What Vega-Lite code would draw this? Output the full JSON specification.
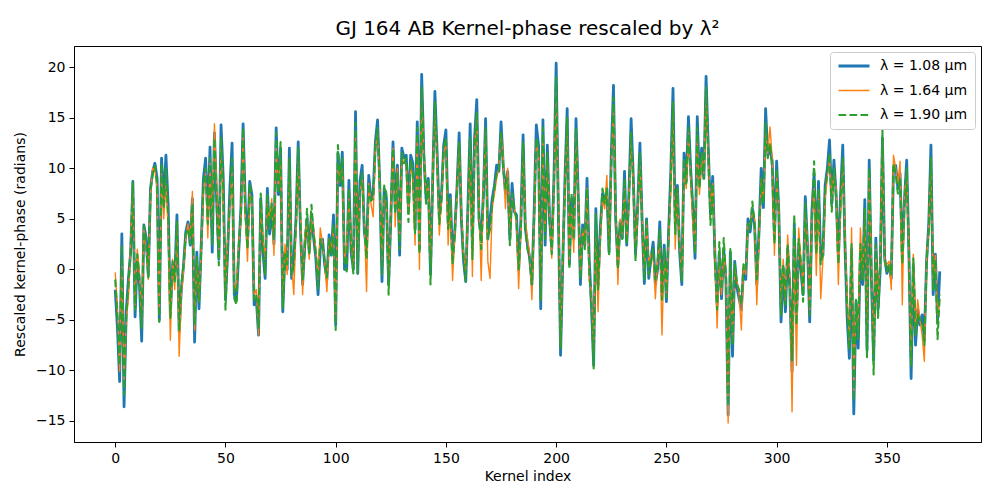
{
  "$schema": "https://vega.github.io/schema/vega-lite/v6.json",
  "width": 907,
  "height": 396,
  "autosize": {"type": "none"},
  "padding": {"left": 74, "top": 46, "right": 19, "bottom": 58},
  "background": "white",
  "config": {
    "font": "DejaVu Sans",
    "view": {"stroke": "black", "strokeWidth": 1},
    "axis": {
      "grid": false,
      "domainColor": "black",
      "tickColor": "black",
      "tickSize": 5,
      "labelFont": "DejaVu Sans",
      "labelFontSize": 14,
      "labelColor": "black",
      "labelPadding": 4,
      "titleFont": "DejaVu Sans",
      "titleFontSize": 14,
      "titleFontWeight": "normal",
      "titleColor": "black"
    },
    "legend": {
      "labelFont": "DejaVu Sans",
      "labelFontSize": 14,
      "labelColor": "black"
    }
  },
  "title": {
    "text": "GJ 164 AB Kernel-phase rescaled by λ²",
    "font": "DejaVu Sans",
    "fontSize": 20,
    "fontWeight": "normal",
    "color": "black",
    "anchor": "middle",
    "baseline": "bottom",
    "offset": 5,
    "dy": 18
  },
  "data": {
    "values": [
      {"k":0,"b":-2.0,"o":-0.3,"g":-1.0},{"k":1,"b":-5.8,"o":-3.5,"g":-4.8},{"k":2,"b":-11.1,"o":-10.1,"g":-9.5},{"k":3,"b":3.5,"o":1.0,"g":2.4},{"k":4,"b":-13.6,"o":-11.0,"g":-12.4},
      {"k":5,"b":-4.2,"o":-5.0,"g":-4.5},{"k":6,"b":-0.9,"o":-2.9,"g":-1.5},{"k":7,"b":1.7,"o":2.5,"g":2.0},{"k":8,"b":8.7,"o":8.5,"g":8.6},{"k":9,"b":-4.7,"o":-3.5,"g":-4.0},
      {"k":10,"b":1.1,"o":2.0,"g":1.5},{"k":11,"b":-1.5,"o":-0.5,"g":-1.0},{"k":12,"b":-7.1,"o":-5.0,"g":-5.8},{"k":13,"b":4.4,"o":4.0,"g":4.3},{"k":14,"b":3.1,"o":2.0,"g":2.8},
      {"k":15,"b":-0.6,"o":-1.0,"g":-0.8},{"k":16,"b":8.0,"o":7.5,"g":7.8},{"k":17,"b":9.7,"o":10.0,"g":9.5},{"k":18,"b":10.5,"o":9.8,"g":10.2},{"k":19,"b":9.0,"o":8.0,"g":8.5},
      {"k":20,"b":-5.0,"o":-4.0,"g":-5.2},{"k":21,"b":11.0,"o":9.5,"g":10.5},{"k":22,"b":6.7,"o":5.0,"g":6.0},{"k":23,"b":11.3,"o":8.5,"g":10.0},{"k":24,"b":6.4,"o":4.0,"g":5.5},
      {"k":25,"b":-4.5,"o":-7.0,"g":-4.8},{"k":26,"b":0.4,"o":1.0,"g":0.8},{"k":27,"b":-0.9,"o":-2.0,"g":-1.2},{"k":28,"b":5.4,"o":4.0,"g":4.8},{"k":29,"b":-6.2,"o":-8.6,"g":-6.0},
      {"k":30,"b":-1.9,"o":-2.5,"g":-1.5},{"k":31,"b":0.4,"o":0.0,"g":0.5},{"k":32,"b":3.7,"o":3.0,"g":3.5},{"k":33,"b":4.7,"o":4.5,"g":4.0},{"k":34,"b":2.4,"o":3.0,"g":2.5},
      {"k":35,"b":7.0,"o":7.7,"g":6.5},{"k":36,"b":-7.2,"o":-6.0,"g":-5.5},{"k":37,"b":1.7,"o":1.0,"g":1.2},{"k":38,"b":-3.9,"o":-3.0,"g":-3.2},{"k":39,"b":2.4,"o":2.0,"g":1.8},
      {"k":40,"b":9.0,"o":8.0,"g":8.5},{"k":41,"b":11.0,"o":9.5,"g":10.0},{"k":42,"b":5.0,"o":3.1,"g":4.5},{"k":43,"b":12.1,"o":10.5,"g":11.0},{"k":44,"b":1.7,"o":4.0,"g":2.5},
      {"k":45,"b":13.5,"o":14.4,"g":13.0},{"k":46,"b":7.0,"o":8.0,"g":6.5},{"k":47,"b":1.0,"o":2.0,"g":0.4},{"k":48,"b":14.3,"o":12.0,"g":13.0},{"k":49,"b":9.0,"o":7.0,"g":8.0},
      {"k":50,"b":-3.0,"o":-2.5,"g":-4.0},{"k":51,"b":1.7,"o":3.0,"g":2.0},{"k":52,"b":8.0,"o":6.0,"g":7.0},{"k":53,"b":12.5,"o":10.0,"g":11.0},{"k":54,"b":-2.5,"o":-2.0,"g":-2.9},
      {"k":55,"b":-3.0,"o":-1.5,"g":-3.5},{"k":56,"b":1.7,"o":2.5,"g":2.0},{"k":57,"b":6.0,"o":5.0,"g":5.5},{"k":58,"b":14.4,"o":13.0,"g":14.0},{"k":59,"b":6.4,"o":5.5,"g":6.0},
      {"k":60,"b":2.5,"o":0.8,"g":2.0},{"k":61,"b":8.7,"o":7.5,"g":8.5},{"k":62,"b":7.4,"o":6.5,"g":7.0},{"k":63,"b":-3.5,"o":-2.5,"g":-3.0},{"k":64,"b":-2.9,"o":-2.0,"g":-2.5},
      {"k":65,"b":-6.5,"o":-6.5,"g":-5.8},{"k":66,"b":7.0,"o":6.0,"g":7.5},{"k":67,"b":1.7,"o":3.0,"g":2.0},{"k":68,"b":-0.9,"o":1.0,"g":-0.5},{"k":69,"b":8.0,"o":6.5,"g":7.5},
      {"k":70,"b":3.5,"o":5.0,"g":4.0},{"k":71,"b":6.0,"o":7.0,"g":6.5},{"k":72,"b":2.5,"o":1.4,"g":3.0},{"k":73,"b":14.0,"o":12.0,"g":13.5},{"k":74,"b":7.4,"o":8.0,"g":7.5},
      {"k":75,"b":12.0,"o":11.0,"g":12.6},{"k":76,"b":-4.2,"o":-3.5,"g":-3.8},{"k":77,"b":1.7,"o":2.5,"g":1.5},{"k":78,"b":0.0,"o":-0.5,"g":0.5},{"k":79,"b":12.0,"o":10.0,"g":11.0},
      {"k":80,"b":-0.9,"o":0.5,"g":-0.5},{"k":81,"b":1.0,"o":-2.5,"g":0.5},{"k":82,"b":5.0,"o":4.0,"g":4.5},{"k":83,"b":12.6,"o":11.0,"g":12.0},{"k":84,"b":4.1,"o":5.0,"g":4.5},
      {"k":85,"b":-1.5,"o":-2.5,"g":-1.0},{"k":86,"b":2.5,"o":3.5,"g":2.0},{"k":87,"b":5.0,"o":4.5,"g":6.0},{"k":88,"b":1.7,"o":1.0,"g":1.5},{"k":89,"b":5.5,"o":5.0,"g":6.4},
      {"k":90,"b":3.1,"o":4.0,"g":3.5},{"k":91,"b":1.1,"o":2.0,"g":1.5},{"k":92,"b":-2.5,"o":-1.0,"g":-2.0},{"k":93,"b":2.0,"o":4.1,"g":3.0},{"k":94,"b":3.0,"o":2.5,"g":2.5},
      {"k":95,"b":0.5,"o":1.0,"g":0.8},{"k":96,"b":-1.0,"o":-2.2,"g":-0.8},{"k":97,"b":3.4,"o":3.0,"g":3.0},{"k":98,"b":1.4,"o":2.0,"g":1.5},{"k":99,"b":5.4,"o":4.0,"g":4.5},
      {"k":100,"b":-5.5,"o":-5.0,"g":-6.0},{"k":101,"b":11.5,"o":10.0,"g":12.3},{"k":102,"b":8.3,"o":9.0,"g":8.5},{"k":103,"b":11.6,"o":10.0,"g":11.0},{"k":104,"b":0.0,"o":1.0,"g":0.4},
      {"k":105,"b":0.0,"o":2.5,"g":-0.2},{"k":106,"b":8.8,"o":7.0,"g":8.0},{"k":107,"b":1.7,"o":3.0,"g":2.0},{"k":108,"b":0.0,"o":-0.2,"g":-0.4},{"k":109,"b":15.6,"o":13.0,"g":14.5},
      {"k":110,"b":-0.4,"o":1.5,"g":-0.4},{"k":111,"b":8.7,"o":7.5,"g":8.0},{"k":112,"b":10.3,"o":9.0,"g":9.5},{"k":113,"b":3.7,"o":4.5,"g":4.0},{"k":114,"b":2.0,"o":-2.2,"g":1.0},
      {"k":115,"b":9.3,"o":8.5,"g":8.5},{"k":116,"b":7.0,"o":6.5,"g":6.8},{"k":117,"b":7.5,"o":5.2,"g":7.0},{"k":118,"b":12.6,"o":12.0,"g":12.0},{"k":119,"b":14.8,"o":13.5,"g":14.0},
      {"k":120,"b":8.3,"o":8.0,"g":8.5},{"k":121,"b":-1.2,"o":0.5,"g":-0.5},{"k":122,"b":8.0,"o":7.0,"g":8.3},{"k":123,"b":7.0,"o":6.5,"g":7.5},{"k":124,"b":-1.5,"o":-1.0,"g":-2.5},
      {"k":125,"b":5.0,"o":5.5,"g":5.5},{"k":126,"b":12.6,"o":12.0,"g":12.0},{"k":127,"b":6.0,"o":4.2,"g":5.5},{"k":128,"b":10.3,"o":10.0,"g":9.5},{"k":129,"b":1.4,"o":3.0,"g":2.0},
      {"k":130,"b":12.0,"o":11.0,"g":11.5},{"k":131,"b":11.0,"o":10.5,"g":10.5},{"k":132,"b":11.3,"o":10.5,"g":11.0},{"k":133,"b":6.0,"o":5.5,"g":4.7},{"k":134,"b":11.3,"o":10.0,"g":10.8},
      {"k":135,"b":10.5,"o":9.5,"g":10.0},{"k":136,"b":4.0,"o":2.4,"g":3.5},{"k":137,"b":14.6,"o":13.0,"g":14.0},{"k":138,"b":2.0,"o":0.0,"g":1.5},{"k":139,"b":19.3,"o":17.5,"g":18.0},
      {"k":140,"b":11.3,"o":11.0,"g":11.5},{"k":141,"b":7.0,"o":7.5,"g":6.5},{"k":142,"b":9.0,"o":8.5,"g":9.0},{"k":143,"b":-0.5,"o":0.5,"g":-1.5},{"k":144,"b":9.0,"o":9.5,"g":8.5},
      {"k":145,"b":17.6,"o":15.5,"g":16.5},{"k":146,"b":11.6,"o":11.0,"g":11.0},{"k":147,"b":5.0,"o":3.4,"g":4.5},{"k":148,"b":7.4,"o":7.0,"g":7.0},{"k":149,"b":12.3,"o":11.5,"g":12.0},
      {"k":150,"b":13.8,"o":12.5,"g":13.0},{"k":151,"b":4.5,"o":2.4,"g":4.0},{"k":152,"b":7.4,"o":7.0,"g":7.0},{"k":153,"b":1.0,"o":-1.1,"g":0.5},{"k":154,"b":3.7,"o":3.5,"g":3.5},
      {"k":155,"b":8.0,"o":7.5,"g":7.8},{"k":156,"b":13.5,"o":12.5,"g":12.5},{"k":157,"b":5.0,"o":5.5,"g":5.2},{"k":158,"b":0.8,"o":1.5,"g":1.0},{"k":159,"b":-1.2,"o":0.0,"g":-1.2},
      {"k":160,"b":6.4,"o":5.5,"g":6.0},{"k":161,"b":14.4,"o":12.5,"g":13.0},{"k":162,"b":2.0,"o":-0.7,"g":1.0},{"k":163,"b":13.0,"o":12.0,"g":12.5},{"k":164,"b":16.8,"o":15.0,"g":15.5},
      {"k":165,"b":5.0,"o":6.5,"g":5.5},{"k":166,"b":3.0,"o":-1.1,"g":2.0},{"k":167,"b":7.4,"o":8.0,"g":7.0},{"k":168,"b":14.9,"o":13.5,"g":14.0},{"k":169,"b":3.0,"o":0.8,"g":3.0},
      {"k":170,"b":5.0,"o":-0.9,"g":4.0},{"k":171,"b":7.0,"o":6.0,"g":6.5},{"k":172,"b":8.3,"o":7.5,"g":8.0},{"k":173,"b":10.3,"o":9.0,"g":9.5},{"k":174,"b":9.7,"o":10.0,"g":9.5},
      {"k":175,"b":14.6,"o":13.5,"g":13.5},{"k":176,"b":10.3,"o":11.0,"g":10.0},{"k":177,"b":7.5,"o":6.0,"g":8.0},{"k":178,"b":9.7,"o":10.0,"g":9.0},{"k":179,"b":3.0,"o":3.5,"g":2.4},
      {"k":180,"b":8.5,"o":7.0,"g":7.5},{"k":181,"b":5.7,"o":6.0,"g":6.0},{"k":182,"b":5.4,"o":4.5,"g":5.0},{"k":183,"b":0.0,"o":-1.9,"g":0.0},{"k":184,"b":5.0,"o":4.5,"g":4.0},
      {"k":185,"b":13.3,"o":12.0,"g":12.5},{"k":186,"b":4.1,"o":5.0,"g":4.0},{"k":187,"b":2.4,"o":3.0,"g":2.0},{"k":188,"b":1.1,"o":1.5,"g":1.0},{"k":189,"b":-1.5,"o":-3.0,"g":-1.5},
      {"k":190,"b":5.7,"o":5.0,"g":5.0},{"k":191,"b":14.3,"o":12.5,"g":13.0},{"k":192,"b":12.3,"o":11.5,"g":12.0},{"k":193,"b":-3.9,"o":-3.0,"g":-3.0},{"k":194,"b":14.8,"o":13.0,"g":14.0},
      {"k":195,"b":2.4,"o":4.0,"g":3.0},{"k":196,"b":12.3,"o":11.0,"g":11.5},{"k":197,"b":5.0,"o":5.5,"g":5.0},{"k":198,"b":2.0,"o":1.1,"g":1.5},{"k":199,"b":9.0,"o":8.0,"g":8.5},
      {"k":200,"b":20.4,"o":18.0,"g":19.0},{"k":201,"b":5.7,"o":7.0,"g":6.0},{"k":202,"b":-8.5,"o":-7.5,"g":-7.8},{"k":203,"b":0.8,"o":1.5,"g":1.0},{"k":204,"b":9.0,"o":8.0,"g":8.5},
      {"k":205,"b":15.9,"o":14.5,"g":15.0},{"k":206,"b":0.5,"o":1.0,"g":0.0},{"k":207,"b":7.0,"o":6.0,"g":7.5},{"k":208,"b":3.0,"o":1.7,"g":3.0},{"k":209,"b":14.9,"o":13.5,"g":14.0},
      {"k":210,"b":7.4,"o":7.0,"g":7.0},{"k":211,"b":-1.5,"o":-0.5,"g":-1.0},{"k":212,"b":4.4,"o":4.0,"g":4.0},{"k":213,"b":2.4,"o":2.5,"g":2.0},{"k":214,"b":9.0,"o":8.0,"g":8.0},
      {"k":215,"b":1.0,"o":-1.2,"g":0.0},{"k":216,"b":-3.5,"o":-2.0,"g":-3.5},{"k":217,"b":-9.5,"o":-8.0,"g":-9.8},{"k":218,"b":6.0,"o":4.0,"g":5.5},{"k":219,"b":-1.5,"o":-4.2,"g":-2.0},
      {"k":220,"b":4.0,"o":3.0,"g":3.5},{"k":221,"b":7.5,"o":7.0,"g":8.0},{"k":222,"b":6.7,"o":6.0,"g":6.5},{"k":223,"b":8.0,"o":9.3,"g":8.0},{"k":224,"b":1.7,"o":2.0,"g":1.5},
      {"k":225,"b":11.3,"o":10.0,"g":10.5},{"k":226,"b":18.2,"o":16.0,"g":17.0},{"k":227,"b":5.0,"o":6.0,"g":5.5},{"k":228,"b":0.5,"o":-1.5,"g":0.0},{"k":229,"b":4.7,"o":5.0,"g":4.5},
      {"k":230,"b":3.1,"o":3.5,"g":3.0},{"k":231,"b":9.7,"o":8.0,"g":9.0},{"k":232,"b":2.4,"o":3.0,"g":2.5},{"k":233,"b":7.5,"o":7.0,"g":7.0},{"k":234,"b":14.9,"o":12.5,"g":13.5},
      {"k":235,"b":9.0,"o":8.5,"g":8.5},{"k":236,"b":1.5,"o":2.0,"g":0.8},{"k":237,"b":6.4,"o":6.0,"g":6.0},{"k":238,"b":12.5,"o":11.0,"g":11.5},{"k":239,"b":4.7,"o":5.0,"g":4.5},
      {"k":240,"b":-1.4,"o":-0.5,"g":-1.0},{"k":241,"b":5.0,"o":4.5,"g":4.8},{"k":242,"b":-0.9,"o":0.5,"g":-0.5},{"k":243,"b":1.1,"o":1.5,"g":1.0},{"k":244,"b":2.7,"o":1.5,"g":2.0},
      {"k":245,"b":-1.5,"o":-2.9,"g":-1.0},{"k":246,"b":0.0,"o":1.0,"g":0.5},{"k":247,"b":4.7,"o":3.0,"g":4.0},{"k":248,"b":-2.5,"o":-6.5,"g":-3.0},{"k":249,"b":2.4,"o":1.5,"g":2.0},
      {"k":250,"b":-3.2,"o":-2.5,"g":-2.8},{"k":251,"b":3.7,"o":3.0,"g":3.5},{"k":252,"b":9.7,"o":8.0,"g":9.0},{"k":253,"b":17.9,"o":15.5,"g":16.5},{"k":254,"b":4.5,"o":2.0,"g":3.5},
      {"k":255,"b":8.3,"o":7.5,"g":8.0},{"k":256,"b":1.7,"o":2.5,"g":2.0},{"k":257,"b":-1.5,"o":-1.0,"g":-1.2},{"k":258,"b":11.5,"o":10.0,"g":11.0},{"k":259,"b":8.7,"o":8.0,"g":8.5},
      {"k":260,"b":15.1,"o":13.5,"g":14.0},{"k":261,"b":10.0,"o":9.0,"g":9.5},{"k":262,"b":6.0,"o":4.4,"g":6.0},{"k":263,"b":1.1,"o":2.5,"g":1.5},{"k":264,"b":15.1,"o":13.0,"g":14.0},
      {"k":265,"b":8.5,"o":7.4,"g":8.0},{"k":266,"b":12.0,"o":11.0,"g":11.5},{"k":267,"b":9.0,"o":9.5,"g":9.0},{"k":268,"b":19.1,"o":17.5,"g":18.0},{"k":269,"b":12.0,"o":11.0,"g":11.5},
      {"k":270,"b":5.5,"o":6.0,"g":4.4},{"k":271,"b":9.2,"o":8.5,"g":8.5},{"k":272,"b":1.5,"o":2.0,"g":1.0},{"k":273,"b":-3.5,"o":-5.8,"g":-4.0},{"k":274,"b":1.5,"o":1.0,"g":2.7},
      {"k":275,"b":-2.9,"o":-2.5,"g":-2.0},{"k":276,"b":2.0,"o":1.5,"g":3.1},{"k":277,"b":-1.0,"o":-0.5,"g":-0.8},{"k":278,"b":-14.4,"o":-15.2,"g":-13.5},{"k":279,"b":1.7,"o":1.0,"g":2.0},
      {"k":280,"b":-8.6,"o":-7.0,"g":-7.5},{"k":281,"b":0.8,"o":0.0,"g":0.5},{"k":282,"b":-1.8,"o":-1.0,"g":-1.5},{"k":283,"b":-2.9,"o":-2.5,"g":-2.0},{"k":284,"b":-4.0,"o":-6.0,"g":-3.5},
      {"k":285,"b":0.0,"o":0.5,"g":0.5},{"k":286,"b":-1.0,"o":-0.5,"g":0.0},{"k":287,"b":5.0,"o":4.5,"g":4.5},{"k":288,"b":3.7,"o":4.5,"g":4.0},{"k":289,"b":6.0,"o":5.5,"g":6.7},
      {"k":290,"b":4.4,"o":5.0,"g":4.5},{"k":291,"b":-1.5,"o":-3.5,"g":-1.0},{"k":292,"b":3.7,"o":3.0,"g":3.5},{"k":293,"b":10.0,"o":8.5,"g":9.0},{"k":294,"b":6.0,"o":7.0,"g":6.5},
      {"k":295,"b":15.9,"o":13.5,"g":14.5},{"k":296,"b":11.3,"o":11.5,"g":11.0},{"k":297,"b":12.0,"o":14.1,"g":12.5},{"k":298,"b":10.7,"o":11.0,"g":10.0},{"k":299,"b":3.0,"o":1.4,"g":2.5},
      {"k":300,"b":10.7,"o":9.0,"g":10.0},{"k":301,"b":5.7,"o":6.0,"g":5.5},{"k":302,"b":-5.2,"o":-4.0,"g":-4.5},{"k":303,"b":0.1,"o":1.0,"g":0.5},{"k":304,"b":-4.2,"o":-3.0,"g":-3.5},
      {"k":305,"b":2.0,"o":3.4,"g":2.5},{"k":306,"b":-2.0,"o":-1.0,"g":-1.5},{"k":307,"b":-10.1,"o":-14.1,"g":-9.0},{"k":308,"b":4.5,"o":3.0,"g":5.4},{"k":309,"b":-5.0,"o":-9.5,"g":-5.5},
      {"k":310,"b":2.5,"o":4.1,"g":3.0},{"k":311,"b":0.0,"o":1.0,"g":0.5},{"k":312,"b":-2.5,"o":-2.0,"g":-3.2},{"k":313,"b":7.2,"o":5.5,"g":6.5},{"k":314,"b":2.4,"o":3.0,"g":2.0},
      {"k":315,"b":-5.2,"o":-4.0,"g":-4.5},{"k":316,"b":5.7,"o":5.0,"g":5.0},{"k":317,"b":9.5,"o":8.0,"g":10.7},{"k":318,"b":2.0,"o":-0.6,"g":1.5},{"k":319,"b":8.7,"o":7.5,"g":8.0},
      {"k":320,"b":1.0,"o":-2.9,"g":0.5},{"k":321,"b":1.4,"o":1.0,"g":1.5},{"k":322,"b":8.3,"o":7.0,"g":8.0},{"k":323,"b":10.0,"o":9.0,"g":9.5},{"k":324,"b":12.8,"o":11.0,"g":11.5},
      {"k":325,"b":6.5,"o":7.0,"g":5.7},{"k":326,"b":10.8,"o":9.5,"g":10.0},{"k":327,"b":7.4,"o":8.0,"g":7.0},{"k":328,"b":1.0,"o":-1.5,"g":0.5},{"k":329,"b":7.4,"o":6.0,"g":7.0},
      {"k":330,"b":12.3,"o":10.5,"g":11.0},{"k":331,"b":2.4,"o":3.5,"g":2.5},{"k":332,"b":-4.8,"o":-3.0,"g":-4.0},{"k":333,"b":-8.8,"o":-7.0,"g":-8.0},{"k":334,"b":2.0,"o":4.1,"g":2.5},
      {"k":335,"b":-14.3,"o":-12.0,"g":-13.0},{"k":336,"b":-3.2,"o":-3.0,"g":-3.0},{"k":337,"b":-7.8,"o":-6.0,"g":-7.0},{"k":338,"b":2.0,"o":4.1,"g":2.5},{"k":339,"b":-1.5,"o":-1.0,"g":-1.0},
      {"k":340,"b":6.9,"o":5.5,"g":6.0},{"k":341,"b":-8.0,"o":-7.0,"g":-8.7},{"k":342,"b":10.8,"o":9.5,"g":10.0},{"k":343,"b":-0.9,"o":0.5,"g":-0.5},{"k":344,"b":-9.0,"o":-8.0,"g":-10.4},
      {"k":345,"b":3.1,"o":2.0,"g":2.5},{"k":346,"b":-4.0,"o":-3.5,"g":-4.8},{"k":347,"b":0.0,"o":1.0,"g":0.5},{"k":348,"b":13.0,"o":12.5,"g":13.8},{"k":349,"b":1.1,"o":0.5,"g":1.0},
      {"k":350,"b":-0.4,"o":0.5,"g":-0.2},{"k":351,"b":0.4,"o":0.8,"g":0.5},{"k":352,"b":-0.9,"o":-2.0,"g":-0.5},{"k":353,"b":10.0,"o":11.3,"g":10.5},{"k":354,"b":10.3,"o":10.0,"g":9.5},
      {"k":355,"b":8.0,"o":8.5,"g":7.5},{"k":356,"b":9.5,"o":10.7,"g":9.0},{"k":357,"b":1.0,"o":-3.5,"g":0.5},{"k":358,"b":7.0,"o":7.5,"g":6.5},{"k":359,"b":10.8,"o":9.5,"g":10.0},
      {"k":360,"b":1.7,"o":2.0,"g":1.5},{"k":361,"b":-10.8,"o":-9.0,"g":-9.5},{"k":362,"b":0.5,"o":1.5,"g":1.1},{"k":363,"b":-7.5,"o":-6.0,"g":-6.5},{"k":364,"b":-4.0,"o":-3.0,"g":-4.5},
      {"k":365,"b":-5.5,"o":-5.0,"g":-5.0},{"k":366,"b":-4.5,"o":-6.5,"g":-5.0},{"k":367,"b":-7.0,"o":-9.1,"g":-7.5},{"k":368,"b":0.8,"o":1.0,"g":0.5},{"k":369,"b":4.5,"o":4.0,"g":4.0},
      {"k":370,"b":12.3,"o":10.5,"g":11.0},{"k":371,"b":-2.5,"o":-1.0,"g":-2.0},{"k":372,"b":1.5,"o":1.4,"g":1.0},{"k":373,"b":-5.0,"o":-4.5,"g":-6.9},{"k":374,"b":-0.2,"o":-3.0,"g":-2.5}
    ]
  },
  "transform": [
    {"fold": ["b", "o", "g"], "as": ["s", "v"]}
  ],
  "mark": {"type": "line", "strokeJoin": "round", "clip": true},
  "encoding": {
    "x": {
      "field": "k",
      "type": "quantitative",
      "title": "Kernel index",
      "scale": {"domain": [-18.7, 392.7], "nice": false, "zero": false},
      "axis": {"values": [0, 50, 100, 150, 200, 250, 300, 350], "titlePadding": 4}
    },
    "y": {
      "field": "v",
      "type": "quantitative",
      "title": "Rescaled kernel-phase (radians)",
      "scale": {"domain": [-17.08, 22.1], "nice": false, "zero": false},
      "axis": {"values": [-15, -10, -5, 0, 5, 10, 15, 20], "titlePadding": 8}
    },
    "color": {
      "field": "s",
      "type": "nominal",
      "scale": {"domain": ["b", "o", "g"], "range": ["#1f77b4", "#ff7f0e", "#2ca02c"]},
      "legend": {
        "title": null,
        "orient": "top-right",
        "offset": 6,
        "padding": 7,
        "fillColor": "white",
        "strokeColor": "#cccccc",
        "cornerRadius": 3,
        "symbolType": "stroke",
        "symbolSize": 961,
        "clipHeight": 14,
        "rowPadding": 10.5,
        "labelOffset": 9,
        "labelExpr": "datum.label == 'b' ? 'λ = 1.08 μm' : datum.label == 'o' ? 'λ = 1.64 μm' : 'λ = 1.90 μm'"
      }
    },
    "strokeWidth": {
      "field": "s",
      "type": "nominal",
      "scale": {"type": "ordinal", "domain": ["b", "o", "g"], "range": [2.8, 1.4, 2.1]}
    },
    "strokeDash": {
      "field": "s",
      "type": "nominal",
      "scale": {"domain": ["b", "o", "g"], "range": [[1, 0], [1, 0], [7.7, 3.3]]}
    }
  }
}
